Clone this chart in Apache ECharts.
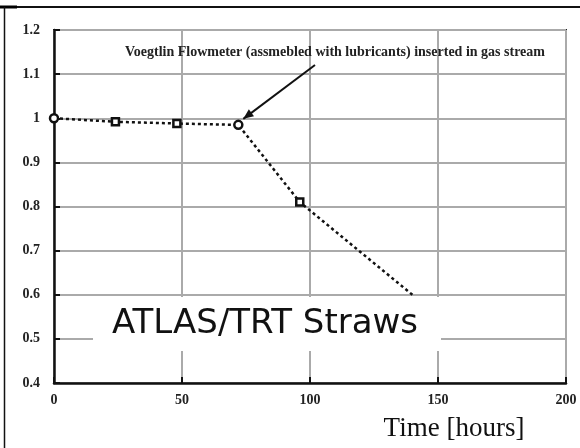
<!DOCTYPE html>
<html>
<head>
<meta charset="utf-8">
<script src="https://cdn.jsdelivr.net/npm/echarts@6/dist/echarts.min.js"></script>
<style>html,body{margin:0;padding:0;background:#fff;}#c{width:580px;height:448px;}</style>
</head>
<body>
<div id="c"></div>
<script>
// Data
var hours = [0, 24, 48, 72, 96, 140];
var ratio = [1.0, 0.992, 0.988, 0.985, 0.81, 0.6];
var markers = ['circle', 'rect', 'rect', 'circle', 'rect', 'none'];
var xTicks = [0, 50, 100, 150, 200];
var yTicks = [0.4, 0.5, 0.6, 0.7, 0.8, 0.9, 1, 1.1, 1.2];
var annotation = 'Voegtlin Flowmeter (assmebled with lubricants) inserted in gas stream';
var title = 'ATLAS/TRT Straws';
var xName = 'Time [hours]';

var chart = echarts.init(document.getElementById('c'));
var serif = '"Liberation Serif", "Times New Roman", serif';

var seriesData = hours.map(function (h, i) {
  return {
    value: [h, ratio[i]],
    symbol: markers[i],
    symbolSize: markers[i] === 'circle' ? 8 : 7
  };
});

var option = {
  animation: false,
  backgroundColor: '#fff',
  grid: {
    left: 54, right: 14, top: 30, bottom: 65,
    show: true, borderColor: '#222', borderWidth: 2, backgroundColor: 'transparent'
  },
  xAxis: {
    type: 'value', min: 0, max: 200, interval: 50,
    axisLine: { show: true, lineStyle: { color: '#111', width: 2.5 } },
    axisTick: { show: true, inside: true, length: 6, lineStyle: { color: '#111', width: 2 } },
    axisLabel: { color: '#222', fontFamily: serif, fontWeight: 'bold', fontSize: 14, margin: 10,
      formatter: function (v) { return xTicks.indexOf(v) >= 0 ? String(v) : ''; } },
    splitLine: { show: true, lineStyle: { color: '#aaa', width: 2 } }
  },
  yAxis: {
    type: 'value', min: 0.4, max: 1.2, interval: 0.1,
    axisLine: { show: true, lineStyle: { color: '#111', width: 2.5 } },
    axisTick: { show: true, inside: true, length: 6, lineStyle: { color: '#111', width: 2 } },
    axisLabel: { color: '#222', fontFamily: serif, fontWeight: 'bold', fontSize: 14, margin: 14,
      formatter: function (v) {
        var r = Math.round(v * 10) / 10;
        return String(r);
      } },
    splitLine: { show: true, lineStyle: { color: '#aaa', width: 2 } }
  },
  series: [{
    type: 'line',
    data: seriesData,
    z: 5,
    lineStyle: { color: '#111', width: 2.5, type: [3, 3] },
    itemStyle: { color: '#fff', borderColor: '#111', borderWidth: 2.5 },
    showAllSymbol: true
  }]
};
chart.setOption(option);

var p72 = chart.convertToPixel({ gridIndex: 0 }, [hours[3], ratio[3]]);
var tail = [315, 65];
var tip = [p72[0] + 5, p72[1] - 6];
var ang = Math.atan2(tip[1] - tail[1], tip[0] - tail[0]);
var hl = 11, hw = 0.4;
var h1 = [tip[0] - hl * Math.cos(ang - hw), tip[1] - hl * Math.sin(ang - hw)];
var h2 = [tip[0] - hl * Math.cos(ang + hw), tip[1] - hl * Math.sin(ang + hw)];

chart.setOption({
  graphic: [
    { type: 'line', shape: { x1: 0, y1: 7, x2: 580, y2: 7 }, style: { stroke: '#111', lineWidth: 2 }, z: 100 },
    { type: 'line', shape: { x1: 0, y1: 7, x2: 17, y2: 7 }, style: { stroke: '#000', lineWidth: 3 }, z: 100 },
    { type: 'line', shape: { x1: 4.5, y1: 7, x2: 4.5, y2: 448 }, style: { stroke: '#111', lineWidth: 1.5 }, z: 100 },
    { type: 'rect', shape: { x: 93, y: 297, width: 348, height: 54 }, style: { fill: '#fff' }, z: 50 },
    { type: 'text', x: 265, y: 324, style: { text: title, font: '34px "DejaVu Sans", sans-serif', fill: '#111', align: 'center', verticalAlign: 'middle' }, z: 60 },
    { type: 'text', x: 125, y: 52, style: { text: annotation, font: 'bold 14px ' + serif, fill: '#222', verticalAlign: 'middle' }, z: 60 },
    { type: 'line', shape: { x1: tail[0], y1: tail[1], x2: tip[0], y2: tip[1] }, style: { stroke: '#111', lineWidth: 2 }, z: 60 },
    { type: 'polygon', shape: { points: [tip, h1, h2] }, style: { fill: '#111' }, z: 60 },
    { type: 'text', x: 454, y: 429, style: { text: xName, font: '27px ' + serif, fill: '#111', align: 'center', verticalAlign: 'middle' }, z: 60 }
  ]
});
</script>
</body>
</html>
